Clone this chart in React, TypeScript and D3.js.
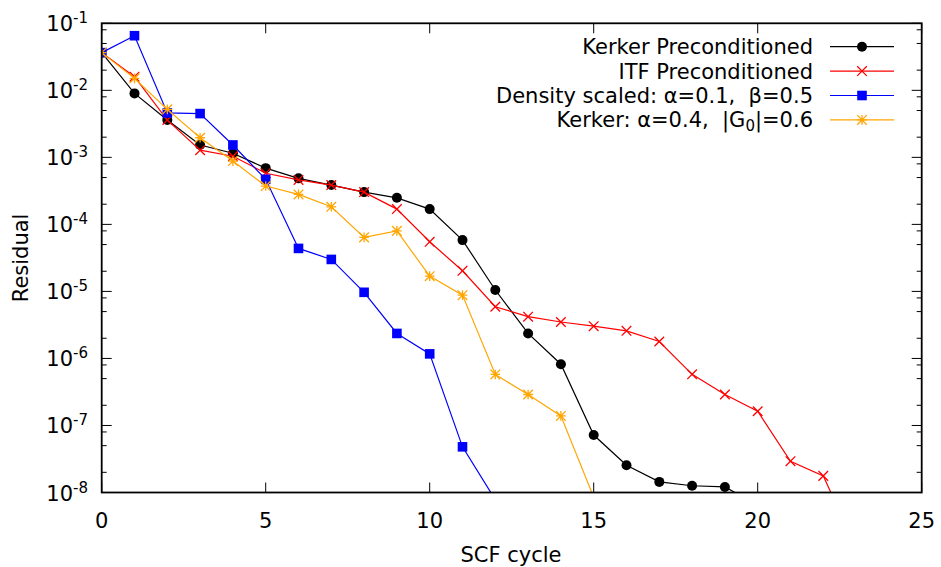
import React from "react";
import * as d3 from "d3";

const cycles = Array.from({ length: 24 }, (_, i) => i);

const kerkerPreconditioned = [3.65e-2, 9.0e-3, 3.6e-3, 1.53e-3, 1.15e-3, 6.9e-4, 4.86e-4, 3.86e-4, 3.03e-4, 2.49e-4, 1.69e-4, 5.83e-5, 1.05e-5, 2.36e-6, 8.2e-7, 7.2e-8, 2.55e-8, 1.44e-8, 1.26e-8, 1.21e-8, 6.5e-9];
const itfPreconditioned = [3.65e-2, 1.6e-2, 3.6e-3, 1.28e-3, 1.04e-3, 5.8e-4, 4.6e-4, 3.86e-4, 3.03e-4, 1.69e-4, 5.5e-5, 2.03e-5, 5.9e-6, 4.2e-6, 3.5e-6, 3.03e-6, 2.58e-6, 1.79e-6, 5.8e-7, 2.9e-7, 1.63e-7, 2.93e-8, 1.77e-8, 1.5e-9];
const densityScaled = [3.65e-2, 6.53e-2, 4.6e-3, 4.5e-3, 1.53e-3, 4.7e-4, 4.38e-5, 3.0e-5, 9.7e-6, 2.36e-6, 1.17e-6, 4.8e-8, 7.8e-9];
const kerkerAlpha = [3.65e-2, 1.51e-2, 5.2e-3, 1.96e-3, 8.8e-4, 3.73e-4, 2.8e-4, 1.83e-4, 6.4e-5, 8.0e-5, 1.69e-5, 8.8e-6, 5.77e-7, 2.9e-7, 1.39e-7, 8.5e-9];

const xTicks = [0, 5, 10, 15, 20, 25];
const yExponents = [-8, -7, -6, -5, -4, -3, -2, -1];
const minorMantissas = [2, 5, 8];

const FONT = "'DejaVu Sans', sans-serif";

type Series = { key: string; values: number[]; color: string; marker: string };

const series: Series[] = [
  { key: "kerkerPre", values: kerkerPreconditioned, color: "#000000", marker: "circle" },
  { key: "itf", values: itfPreconditioned, color: "#ff0000", marker: "cross" },
  { key: "density", values: densityScaled, color: "#0000ff", marker: "square" },
  { key: "kerkerAlpha", values: kerkerAlpha, color: "#ffa500", marker: "star" },
];

function Marker({ type, x, y, color }: { type: string; x: number; y: number; color: string }) {
  const s = 4.8;
  if (type === "circle") return <circle cx={x} cy={y} r={5} fill={color} />;
  if (type === "square") return <rect x={x - s} y={y - s} width={2 * s} height={2 * s} fill={color} />;
  if (type === "cross")
    return (
      <path d={`M${x - s},${y - s}L${x + s},${y + s}M${x - s},${y + s}L${x + s},${y - s}`} stroke={color} strokeWidth={1.3} fill="none" />
    );
  return (
    <path
      d={`M${x - s},${y - s}L${x + s},${y + s}M${x - s},${y + s}L${x + s},${y - s}M${x - s},${y}L${x + s},${y}M${x},${y - s}L${x},${y + s}`}
      stroke={color}
      strokeWidth={1.3}
      fill="none"
    />
  );
}

export default function App() {
  const W = 941, H = 567;
  const left = 101.7, right = 921.7, top = 23.3, bottom = 492.5;
  const x = d3.scaleLinear().domain([0, 25]).range([left, right]);
  const y = d3.scaleLog().domain([1e-8, 1e-1]).range([bottom, top]);
  const line = d3.line<number>().x((_, i) => x(cycles[i])).y((d) => y(d));

  const minorTicks: number[] = [];
  yExponents.forEach((e) => {
    if (e === -1) return;
    minorMantissas.forEach((m) => minorTicks.push(m * Math.pow(10, e)));
  });

  const legendRows = [
    { label: <tspan>Kerker Preconditioned</tspan>, s: series[0] },
    { label: <tspan>ITF Preconditioned</tspan>, s: series[1] },
    { label: <tspan>Density scaled: α=0.1,  β=0.5</tspan>, s: series[2] },
    {
      label: (
        <>
          <tspan>Kerker: α=0.4,  |G</tspan>
          <tspan fontSize={15} dy={4}>0</tspan>
          <tspan dy={-4}>|=0.6</tspan>
        </>
      ),
      s: series[3],
    },
  ];

  return (
    <svg width={W} height={H} style={{ position: "absolute", left: 0, top: 0, background: "#fff" }} fontFamily={FONT}>
      <defs>
        <clipPath id="plotClip">
          <rect x={left} y={top} width={right - left} height={bottom - top} />
        </clipPath>
      </defs>
      <rect x={0} y={0} width={W} height={H} fill="#fff" />

      {/* ticks */}
      <g stroke="#000" strokeWidth={1}>
        {xTicks.map((t) => (
          <g key={"xt" + t}>
            <line x1={x(t)} x2={x(t)} y1={bottom} y2={bottom - 10} />
            <line x1={x(t)} x2={x(t)} y1={top} y2={top + 10} />
          </g>
        ))}
        {yExponents.map((e) => (
          <g key={"yt" + e}>
            <line x1={left} x2={left + 10} y1={y(Math.pow(10, e))} y2={y(Math.pow(10, e))} />
            <line x1={right} x2={right - 10} y1={y(Math.pow(10, e))} y2={y(Math.pow(10, e))} />
          </g>
        ))}
        {minorTicks.map((v, i) => (
          <g key={"ym" + i}>
            <line x1={left} x2={left + 5} y1={y(v)} y2={y(v)} />
            <line x1={right} x2={right - 5} y1={y(v)} y2={y(v)} />
          </g>
        ))}
      </g>

      {/* tick labels */}
      <g fontSize={21} fill="#000">
        {xTicks.map((t) => (
          <text key={"xl" + t} x={x(t)} y={528} textAnchor="middle">
            {t}
          </text>
        ))}
        {yExponents.map((e) => (
          <text key={"yl" + e} x={88} y={y(Math.pow(10, e)) + 8} textAnchor="end">
            <tspan>10</tspan>
            <tspan fontSize={15} dy={-8}>{String(e)}</tspan>
          </text>
        ))}
      </g>

      {/* axis labels */}
      <text x={511} y={562} textAnchor="middle" fontSize={21}>
        SCF cycle
      </text>
      <text transform={`translate(28,${(top + bottom) / 2}) rotate(-90)`} textAnchor="middle" fontSize={21}>
        Residual
      </text>

      {/* series */}
      <g clipPath="url(#plotClip)">
        {series.map((s) => (
          <g key={s.key}>
            <path d={line(s.values) || ""} fill="none" stroke={s.color} strokeWidth={1.2} />
            {s.values.map((v, i) => (
              <Marker key={i} type={s.marker} x={x(cycles[i])} y={y(v)} color={s.color} />
            ))}
          </g>
        ))}
      </g>

      {/* legend */}
      <g fontSize={21}>
        {legendRows.map((r, i) => {
          const cy = 46.7 + i * 24.4;
          return (
            <g key={"lg" + i}>
              <text x={813} y={cy + 7.5} textAnchor="end" style={{ whiteSpace: "pre" }}>
                {r.label}
              </text>
              <line x1={830} x2={894} y1={cy} y2={cy} stroke={r.s.color} strokeWidth={1.2} />
              <Marker type={r.s.marker} x={862} y={cy} color={r.s.color} />
            </g>
          );
        })}
      </g>

      {/* border */}
      <rect x={left} y={top} width={right - left} height={bottom - top} fill="none" stroke="#000" strokeWidth={1.8} />
    </svg>
  );
}
